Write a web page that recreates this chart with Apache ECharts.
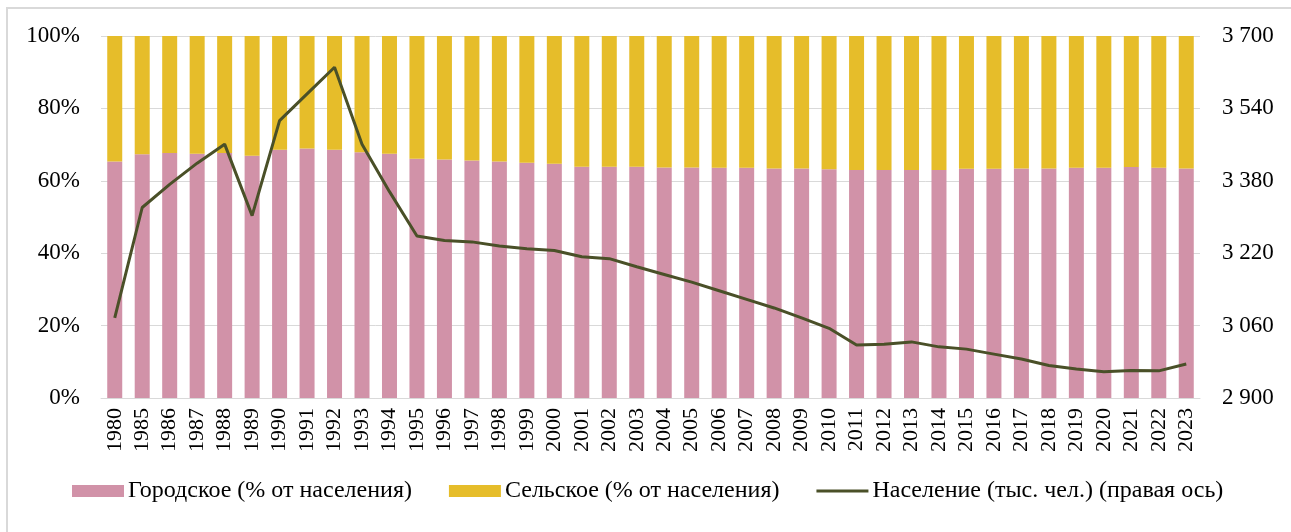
<!DOCTYPE html>
<html lang="ru">
<head>
    <meta charset="UTF-8">
    <title>Население</title>
    <script src="https://cdn.jsdelivr.net/npm/echarts@6/dist/echarts.min.js"></script>
    <style>
        html, body { margin: 0; padding: 0; background: #fff; }
        #main { width: 1291px; height: 532px; }
    </style>
</head>
<body>
<div id="main"></div>
<script type="text/javascript">
    // годы
    var years = ['1980','1985','1986','1987','1988','1989','1990','1991','1992','1993',
        '1994','1995','1996','1997','1998','1999','2000','2001','2002','2003',
        '2004','2005','2006','2007','2008','2009','2010','2011','2012','2013',
        '2014','2015','2016','2017','2018','2019','2020','2021','2022','2023'];

    // городское население, % от населения
    var urban = [65.3, 67.3, 67.7, 67.5, 67.7, 66.9, 68.6, 68.9, 68.6, 67.9,
        67.5, 66.1, 65.9, 65.6, 65.3, 65.0, 64.7, 63.9, 63.9, 63.9,
        63.7, 63.7, 63.6, 63.6, 63.4, 63.4, 63.2, 63.0, 63.0, 63.0,
        63.0, 63.3, 63.3, 63.4, 63.4, 63.6, 63.6, 63.8, 63.6, 63.4];

    // сельское население, % от населения
    var rural = [34.7, 32.7, 32.3, 32.5, 32.3, 33.1, 31.4, 31.1, 31.4, 32.1,
        32.5, 33.9, 34.1, 34.4, 34.7, 35.0, 35.3, 36.1, 36.1, 36.1,
        36.3, 36.3, 36.4, 36.4, 36.6, 36.6, 36.8, 37.0, 37.0, 37.0,
        37.0, 36.7, 36.7, 36.6, 36.6, 36.4, 36.4, 36.2, 36.4, 36.6];

    // население, тыс. чел.
    var population = [3077, 3321, 3372, 3419, 3461, 3303, 3513, 3572, 3631, 3461,
        3356, 3258, 3248, 3245, 3236, 3230, 3226, 3212, 3208, 3190,
        3173, 3156, 3137, 3118, 3099, 3077, 3054, 3017, 3019, 3024,
        3013, 3008, 2997, 2986, 2972, 2964, 2958, 2961, 2960, 2975];

    var myChart = echarts.init(document.getElementById('main'));

    var font = '"Liberation Serif", "Times New Roman", serif';
    var lineColor = '#4a5028';

    var option = {
        animation: false,
        textStyle: {fontFamily: font, color: '#000'},
        // рамка вокруг диаграммы
        graphic: [{
            type: 'rect',
            silent: true,
            shape: {x: 7, y: 8, width: 1400, height: 700},
            style: {fill: 'none', stroke: '#d9d9d9', lineWidth: 2}
        }],
        grid: {left: 101, right: 91, top: 36, bottom: 134},
        legend: {
            bottom: 24,
            left: 67,
            itemGap: 37,
            itemWidth: 52,
            itemHeight: 12,
            textStyle: {fontFamily: font, fontSize: 24, color: '#000', padding: [0, 0, 0, -1]},
            data: [
                {name: 'Городское (% от населения)', icon: 'rect'},
                {name: 'Сельское (% от населения)', icon: 'rect'},
                {
                    name: 'Население (тыс. чел.) (правая ось)',
                    icon: 'path://M0,0 L52,0 L52,3 L0,3 Z',
                    itemStyle: {color: lineColor}
                }
            ]
        },
        xAxis: {
            type: 'category',
            data: years,
            axisLine: {lineStyle: {color: '#d9d9d9', width: 1}},
            axisTick: {show: false},
            axisLabel: {
                rotate: 90,
                interval: 0,
                margin: 10,
                fontFamily: font,
                fontSize: 22,
                color: '#000'
            }
        },
        yAxis: [
            {
                type: 'value',
                min: 0,
                max: 100,
                interval: 20,
                axisLine: {show: false},
                axisTick: {show: false},
                splitLine: {lineStyle: {color: '#d9d9d9', width: 1}},
                axisLabel: {
                    formatter: '{value}%',
                    fontFamily: font,
                    fontSize: 23,
                    color: '#000',
                    margin: 21
                }
            },
            {
                type: 'value',
                min: 2900,
                max: 3700,
                interval: 160,
                position: 'right',
                axisLine: {show: false},
                axisTick: {show: false},
                splitLine: {show: false},
                axisLabel: {
                    formatter: function (v) {
                        var s = String(v);
                        return s.slice(0, s.length - 3) + ' ' + s.slice(-3);
                    },
                    fontFamily: font,
                    fontSize: 23,
                    color: '#000',
                    margin: 22
                }
            }
        ],
        series: [
            {
                name: 'Городское (% от населения)',
                type: 'bar',
                stack: 'share',
                barWidth: 15,
                itemStyle: {color: '#d192a8'},
                data: urban
            },
            {
                name: 'Сельское (% от населения)',
                type: 'bar',
                stack: 'share',
                barWidth: 15,
                itemStyle: {color: '#e6bd2a'},
                data: rural
            },
            {
                name: 'Население (тыс. чел.) (правая ось)',
                type: 'line',
                yAxisIndex: 1,
                symbol: 'none',
                lineStyle: {color: lineColor, width: 3},
                itemStyle: {color: lineColor},
                data: population
            }
        ]
    };

    myChart.setOption(option);
</script>
</body>
</html>
